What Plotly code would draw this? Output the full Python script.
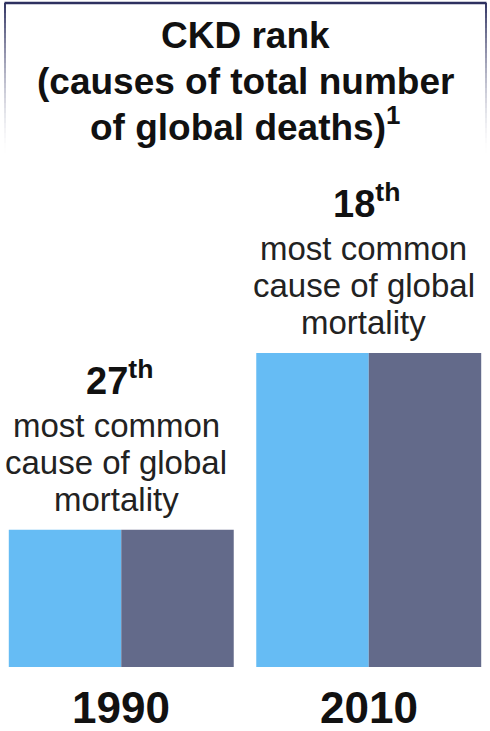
import plotly.graph_objects as go

# Chart data
years = ["1990", "2010"]
ckd_rank = [27, 18]                      # CKD rank among causes of global deaths
series_names = ["left half", "right half"]
series_colors = ["#66bcf4", "#636a8a"]
rank_floor = 34                          # bars grow upward from this rank
caption_lines = ["most common", "cause of global", "mortality"]
title_lines = ["CKD rank", "(causes of total number", "of global deaths)<sup>1</sup>"]

FONT = "Liberation Sans, Arial, sans-serif"
W, H = 490, 731

fig = go.Figure()
for name, color in zip(series_names, series_colors):
    fig.add_trace(go.Bar(
        x=years,
        y=[r - rank_floor for r in ckd_rank],
        base=[rank_floor] * len(years),
        name=name,
        marker=dict(color=color, line=dict(width=0)),
        hoverinfo="skip",
    ))

annotations = []

# Title block
title_y = [36, 81, 124]
for txt, yc in zip(title_lines, title_y):
    annotations.append(dict(
        text=f"<b>{txt}</b>", x=0.5, xref="paper", y=1 - yc / H, yref="paper",
        xanchor="center", yanchor="middle", showarrow=False,
        font=dict(family=FONT, size=37, color="#111111"),
    ))

# Rank labels and captions above each bar group (x given as category index)
for idx, (yr, rank) in enumerate(zip(years, ckd_rank)):
    annotations.append(dict(
        text=f"<b>{rank}<sup>th</sup></b>", x=idx, xref="x", y=rank, yref="y",
        xanchor="center", yanchor="bottom", yshift=126, xshift=-2, showarrow=False,
        font=dict(family=FONT, size=38, color="#111111"),
    ))
    for i, line in enumerate(caption_lines):
        annotations.append(dict(
            text=line, x=idx, xref="x", y=rank, yref="y",
            xanchor="center", yanchor="bottom", yshift=84 - 37 * i, xshift=-5,
            showarrow=False,
            font=dict(family=FONT, size=33, color="#222222"),
        ))
    # Year label under the group
    annotations.append(dict(
        text=f"<b>{yr}</b>", x=idx, xref="x", y=1 - 707 / H, yref="paper",
        xanchor="center", yanchor="middle", showarrow=False,
        font=dict(family=FONT, size=44, color="#111111"),
    ))

# Frame around the title: solid top edge, side edges fading downward
frame_color = "46,49,96"
shapes = [dict(type="line", xref="paper", yref="paper",
               x0=4.5 / W, x1=486.5 / W, y0=1 - 3 / H, y1=1 - 3 / H,
               line=dict(color=f"rgb({frame_color})", width=2.5))]
steps = 30
fade_len = 150
for k in range(steps):
    y0 = 3 + k * fade_len / steps
    y1 = 3 + (k + 1) * fade_len / steps
    alpha = max(0.0, 0.95 * (1 - k / steps) ** 1.6)
    for xp in (5, 486):
        shapes.append(dict(type="line", xref="paper", yref="paper",
                           x0=xp / W, x1=xp / W, y0=1 - y0 / H, y1=1 - y1 / H,
                           line=dict(color=f"rgba({frame_color},{alpha:.3f})", width=2)))

fig.update_layout(
    width=W, height=H,
    margin=dict(l=0, r=0, t=0, b=0),
    paper_bgcolor="white", plot_bgcolor="white",
    barmode="group", bargap=0.091, bargroupgap=0,
    showlegend=False,
    xaxis=dict(type="category", range=[-0.49, 1.49], domain=[0, 1], visible=False),
    yaxis=dict(range=[rank_floor, 0], domain=[1 - 667 / H, 1], visible=False),
    annotations=annotations,
    shapes=shapes,
)

fig.write_html("out.html", config={"displayModeBar": False})
